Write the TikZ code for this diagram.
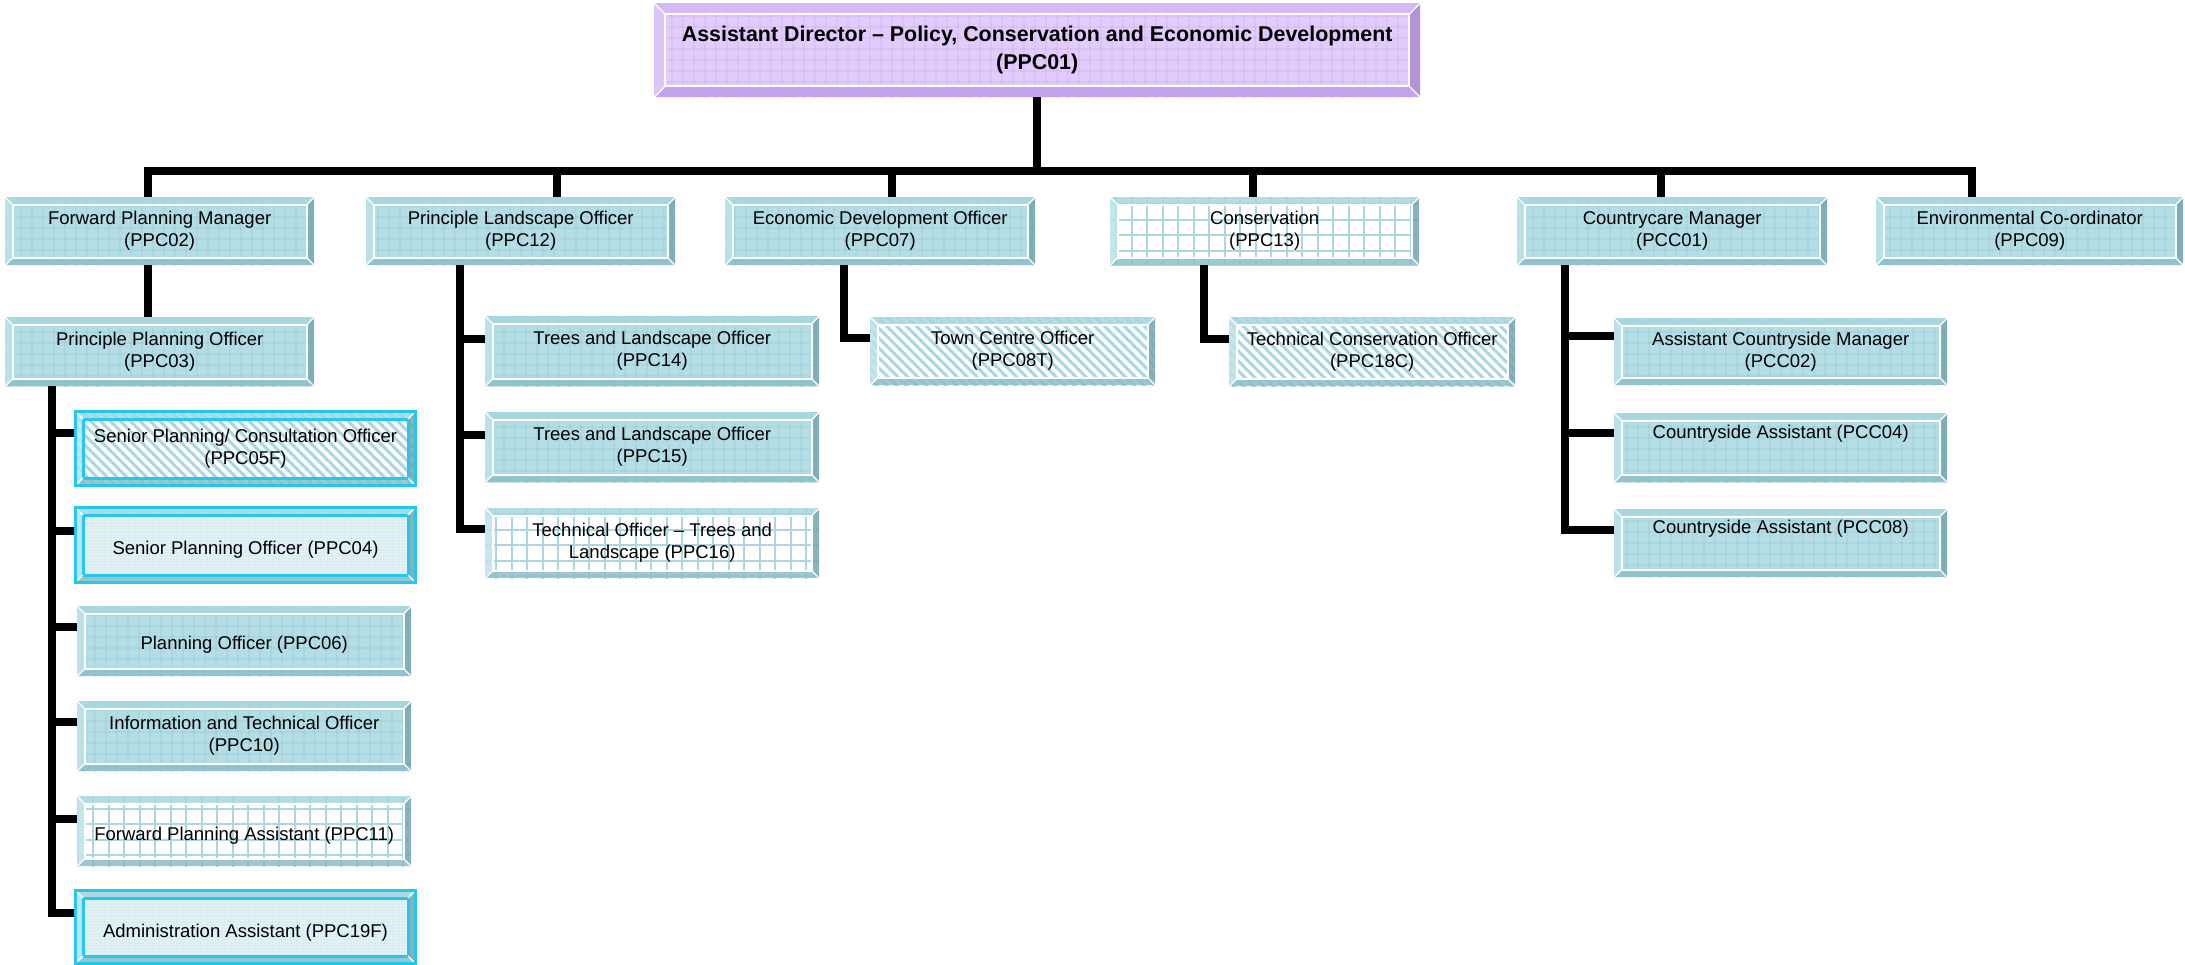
\documentclass[tikz,border=0pt]{standalone}
\usepackage{fontspec}
\setmainfont{Liberation Sans}
\usetikzlibrary{calc,patterns.meta}
\definecolor{tin}{HTML}{B4DDE5}
\definecolor{tgrid}{HTML}{97CAD5}
\definecolor{ttop}{HTML}{A7D6DF}
\definecolor{tleft}{HTML}{BCE2E9}
\definecolor{tbot}{HTML}{8CBEC9}
\definecolor{tright}{HTML}{76A7B1}
\definecolor{pin}{HTML}{E2CCFB}
\definecolor{pgrid}{HTML}{CDB0F0}
\definecolor{ptop}{HTML}{D3B7F5}
\definecolor{pleft}{HTML}{DCC4F8}
\definecolor{pbot}{HTML}{BE9DEB}
\definecolor{pright}{HTML}{A98BD3}
\definecolor{cyanb}{HTML}{22C8F2}
\definecolor{stripec}{HTML}{A9D6DF}
\definecolor{wgrid}{HTML}{AAD7E0}
\definecolor{dotc}{HTML}{B3D8E1}
\definecolor{dotbg}{HTML}{E2F2F5}
\newcommand\bvpic{%
  \coordinate (bvsw) at (path picture bounding box.south west);
  \coordinate (bvne) at (path picture bounding box.north east);
  \coordinate (bvnw) at (path picture bounding box.north west);
  \coordinate (bvse) at (path picture bounding box.south east);
  \coordinate (bvisw) at ($(bvsw)+(\bw,\bw)$);
  \coordinate (bvine) at ($(bvne)+(-\bw,-\bw)$);
  \coordinate (bvinw) at ($(bvnw)+(\bw,-\bw)$);
  \coordinate (bvise) at ($(bvse)+(-\bw,\bw)$);
  \path[bvbg] (bvsw) rectangle (bvne);
  \fill[bvtop] (bvnw) -- (bvne) -- (bvine) -- (bvinw) -- cycle;
  \fill[bvbot] (bvsw) -- (bvse) -- (bvise) -- (bvisw) -- cycle;
  \fill[bvleft] (bvnw) -- (bvsw) -- (bvisw) -- (bvinw) -- cycle;
  \fill[bvright] (bvne) -- (bvse) -- (bvise) -- (bvine) -- cycle;
  \draw[bvedge] (bvisw) rectangle (bvine);
  \draw[bvdiag] (bvnw) -- (bvinw) (bvne) -- (bvine) (bvsw) -- (bvisw) (bvse) -- (bvise);
}
\newcommand\dn[2]{\raisebox{-#1}[\height][\depth]{#2}}
\tikzset{
  bvw/.store in=\bw, bvw=7.5pt,
  bvedge/.style={draw=white, line width=1.6pt},
  bvdiag/.style={draw=white, line width=1.2pt},
  tealbev/.style={bvtop/.style={fill=ttop,fill opacity=.85},
    bvbot/.style={fill=tbot,fill opacity=.85},
    bvleft/.style={fill=tleft,fill opacity=.85},
    bvright/.style={fill=tright,fill opacity=.85}},
  vteal/.style={tealbev, bvbg/.style={fill=tin,
    postaction={pattern={Hatch[distance=10.5pt,line width=.7pt]}, pattern color=tgrid}}},
  vgrid/.style={tealbev, bvbg/.style={fill=white,
    postaction={pattern={Hatch[distance=15.5pt,line width=2pt]}, pattern color=wgrid}}},
  vstripe/.style={tealbev, bvbg/.style={fill=white,
    postaction={pattern={Lines[angle=-45,distance=7pt,line width=3pt]}, pattern color=stripec}}},
  vdots/.style={tealbev, bvbg/.style={fill=dotbg,
    postaction={pattern={Dots[distance=3pt,radius=.6pt]}, pattern color=dotc}}},
  vpurp/.style={bvw=11pt,
    bvtop/.style={fill=ptop,fill opacity=.85},
    bvbot/.style={fill=pbot,fill opacity=.85},
    bvleft/.style={fill=pleft,fill opacity=.85},
    bvright/.style={fill=pright,fill opacity=.85},
    bvbg/.style={fill=pin,
    postaction={pattern={Hatch[distance=10.5pt,line width=.7pt]}, pattern color=pgrid}}},
  cyanframe/.style={draw=cyanb, line width=3pt, bvedge/.style={draw=cyanb, line width=3pt}},
  box/.style={rectangle, inner sep=0pt, anchor=north west, align=center,
    font=\fontsize{18.5}{22}\selectfont, path picture={\bvpic}},
  conn/.style={draw=black, line width=8pt},
}
\begin{document}
\begin{tikzpicture}[x=1pt,y=-1pt]
\useasboundingbox (0,0) rectangle (2185,964);
% top
\node[box,vpurp,minimum width=766pt,minimum height=94pt,
  font=\bfseries\fontsize{21.4}{28}\selectfont] (ppc01) at (654,3)
  {Assistant Director – Policy, Conservation and Economic Development\\(PPC01)};
% row 1
\node[box,vteal,minimum width=309pt,minimum height=68pt] (fpm) at (5,197) {Forward Planning Manager\\(PPC02)};
\node[box,vteal,minimum width=309pt,minimum height=68pt] (plo) at (366,197) {Principle Landscape Officer\\(PPC12)};
\node[box,vteal,minimum width=310pt,minimum height=68pt] (edo) at (725,197) {Economic Development Officer\\(PPC07)};
\node[box,vgrid,minimum width=309pt,minimum height=68pt] (cons) at (1110,197) {Conservation\\(PPC13)};
\node[box,vteal,minimum width=310pt,minimum height=68pt] (ccm) at (1517,197) {Countrycare Manager\\(PCC01)};
\node[box,vteal,minimum width=307pt,minimum height=68pt] (env) at (1876,197) {Environmental Co-ordinator\\(PPC09)};
% forward planning
\node[box,vteal,minimum width=309pt,minimum height=69pt] (ppc03) at (5,317) {Principle Planning Officer\\(PPC03)};
\node[box,vstripe,cyanframe,minimum width=340pt,minimum height=74pt] (c05) at (74,410) {Senior Planning/ Consultation Officer\\(PPC05F)};
\node[box,vdots,cyanframe,minimum width=340pt,minimum height=75pt] (c04) at (74,506) {\dn{5pt}{Senior Planning Officer (PPC04)}};
\node[box,vteal,minimum width=334pt,minimum height=70pt] (c06) at (77,606) {\dn{4pt}{Planning Officer (PPC06)}};
\node[box,vteal,minimum width=334pt,minimum height=70pt] (c10) at (77,701) {Information and Technical Officer\\(PPC10)};
\node[box,vgrid,minimum width=334pt,minimum height=70pt] (c11) at (77,796) {\dn{5pt}{Forward Planning Assistant (PPC11)}};
\node[box,vdots,cyanframe,minimum width=340pt,minimum height=73pt] (c19) at (74,889) {\dn{6pt}{Administration Assistant (PPC19F)}};
% landscape
\node[box,vteal,minimum width=334pt,minimum height=70pt] (p14) at (485,316) {Trees and Landscape Officer\\(PPC14)};
\node[box,vteal,minimum width=334pt,minimum height=70pt] (p15) at (485,412) {Trees and Landscape Officer\\(PPC15)};
\node[box,vgrid,minimum width=334pt,minimum height=70pt] (p16) at (485,508) {Technical Officer – Trees and\\Landscape (PPC16)};
% economic / conservation
\node[box,vstripe,minimum width=285pt,minimum height=68pt] (tco) at (870,317) {Town Centre Officer\\(PPC08T)};
\node[box,vstripe,minimum width=286pt,minimum height=69pt] (tcons) at (1229,317) {Technical Conservation Officer\\(PPC18C)};
% countrycare
\node[box,vteal,minimum width=333pt,minimum height=67pt] (pcc02) at (1614,318) {Assistant Countryside Manager\\(PCC02)};
\node[box,vteal,minimum width=333pt,minimum height=69pt] (pcc04) at (1614,413) {\dn{-14pt}{Countryside Assistant (PCC04)}};
\node[box,vteal,minimum width=333pt,minimum height=68pt] (pcc08) at (1614,509) {\dn{-14pt}{Countryside Assistant (PCC08)}};
% connector coordinates
\coordinate (s1) at (148,171);
\coordinate (s2) at (557,171);
\coordinate (s3) at (892,171);
\coordinate (s4) at (1253,171);
\coordinate (s5) at (1661,171);
\coordinate (s6) at (1972,171);
\coordinate (lx) at (52,0);
\coordinate (px) at (460,0);
\coordinate (ex) at (844,0);
\coordinate (cx) at (1204,0);
\coordinate (qx) at (1565,0);
\foreach \n/\d in {c05/23,c04/25,c06/21,c10/21,c11/23,c19/24,p14/23,p15/23,p16/21,tco/21,tcons/22,pcc02/18,pcc04/20,pcc08/21}
  \coordinate (k\n) at ($(\n.north west)+(0,\d)$);
% connectors
\draw[conn] (ppc01.south) -- (ppc01.south |- s1);
\draw[conn] (s1 |- fpm.north) -- (s1) -- (s6) -- (s6 |- env.north);
\draw[conn] (s2) -- (s2 |- plo.north);
\draw[conn] (s3) -- (s3 |- edo.north);
\draw[conn] (s4) -- (s4 |- cons.north);
\draw[conn] (s5) -- (s5 |- ccm.north);
\draw[conn] (s1 |- fpm.south) -- (s1 |- ppc03.north);
\draw[conn] (lx |- ppc03.south) -- (lx |- kc19) -- (kc19);
\foreach \k in {kc05,kc04,kc06,kc10,kc11} \draw[conn] (lx |- \k) -- (\k);
\draw[conn] (px |- plo.south) -- (px |- kp16) -- (kp16);
\foreach \k in {kp14,kp15} \draw[conn] (px |- \k) -- (\k);
\draw[conn] (ex |- edo.south) -- (ex |- ktco) -- (ktco);
\draw[conn] (cx |- cons.south) -- (cx |- ktcons) -- (ktcons);
\draw[conn] (qx |- ccm.south) -- (qx |- kpcc08) -- (kpcc08);
\foreach \k in {kpcc02,kpcc04} \draw[conn] (qx |- \k) -- (\k);
\end{tikzpicture}
\end{document}
